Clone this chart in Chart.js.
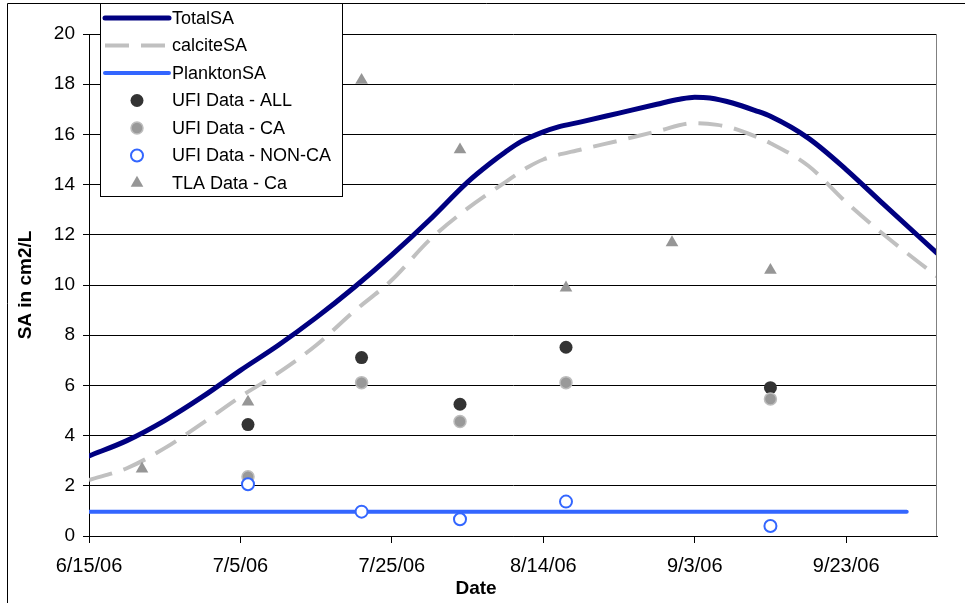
<!DOCTYPE html>
<html><head><meta charset="utf-8">
<script src="https://cdn.jsdelivr.net/npm/chart.js@4.4.0/dist/chart.umd.min.js"></script>
<style>html,body{margin:0;padding:0;background:#fff;} #wrap{width:965px;height:603px;position:relative;}</style>
</head><body><div id="wrap"><canvas id="c" width="965" height="603"></canvas></div>
<script>
// ---- data (x = days since 6/15/06) ----
const tickDays = [0, 20, 40, 60, 80, 100];
const tickLabels = ['6/15/06', '7/5/06', '7/25/06', '8/14/06', '9/3/06', '9/23/06'];
const xMaxDay = 112;
const yTicks = [0, 2, 4, 6, 8, 10, 12, 14, 16, 18, 20];

const totalDays = [0, 5, 10, 15, 20, 25, 30, 35, 40, 45, 50, 53, 55, 57, 60, 62, 65, 70, 75, 78, 80, 82, 85, 88, 90, 95, 100, 105, 112];
const totalSA   = [3.19, 3.8, 4.6, 5.55, 6.6, 7.6, 8.7, 9.9, 11.2, 12.6, 14.1, 14.85, 15.3, 15.7, 16.1, 16.3, 16.5, 16.85, 17.2, 17.4, 17.48, 17.45, 17.25, 16.95, 16.72, 15.85, 14.6, 13.2, 11.27];
const calciteDays = [0, 5, 10, 15, 20, 25, 30, 35, 40, 45, 50, 55, 58, 60, 65, 70, 75, 80, 83, 85, 88, 90, 95, 100, 105, 112];
const calciteSA   = [2.23, 2.7, 3.5, 4.5, 5.55, 6.5, 7.6, 8.95, 10.2, 11.8, 13.05, 14.1, 14.7, 15.0, 15.4, 15.75, 16.12, 16.45, 16.38, 16.25, 15.92, 15.65, 14.75, 13.3, 12.0, 10.34];
const planktonDays = [0, 108];
const planktonSA   = [0.97, 0.97];

const ufiDays  = [21, 36, 49, 63, 90];
const ufiAll   = [4.44, 7.11, 5.25, 7.52, 5.91];
const ufiCA    = [2.36, 6.11, 4.56, 6.11, 5.46];
const ufiNonCA = [2.06, 0.97, 0.67, 1.37, 0.40];

const tlaDays = [7, 21, 36, 49, 63, 77, 90];
const tlaCa   = [2.68, 5.34, 18.16, 15.39, 9.89, 11.69, 10.59];

const yTitle = 'SA in cm2/L';
const xTitle = 'Date';

// ---- build ----
const pts = (xs, ys) => xs.map((x, i) => ({x: x, y: ys[i]}));
const FONT = '"Liberation Sans", Arial, sans-serif';
Chart.defaults.font.family = FONT;
Chart.defaults.color = '#000';

const datasets = [
  {label: 'TotalSA', data: pts(totalDays, totalSA), showLine: true, borderColor: '#000080', backgroundColor: '#000080',
   borderWidth: 5, pointRadius: 0, cubicInterpolationMode: 'monotone', order: 7, borderCapStyle: 'round'},
  {label: 'calciteSA', data: pts(calciteDays, calciteSA), showLine: true, borderColor: '#C0C0C0', backgroundColor: '#C0C0C0',
   borderWidth: 4, borderDash: [24, 12], pointRadius: 0, cubicInterpolationMode: 'monotone', order: 6},
  {label: 'PlanktonSA', data: pts(planktonDays, planktonSA), showLine: true, borderColor: '#3366FF', backgroundColor: '#3366FF',
   borderWidth: 4, pointRadius: 0, order: 5, borderCapStyle: 'round'},
  {label: 'UFI Data - ALL', data: pts(ufiDays, ufiAll), showLine: false, pointStyle: 'circle', pointRadius: 6.5,
   backgroundColor: '#333333', borderColor: '#333333', borderWidth: 0, order: 3},
  {label: 'UFI Data - CA', data: pts(ufiDays, ufiCA), showLine: false, pointStyle: 'circle', pointRadius: 6,
   backgroundColor: '#999999', borderColor: '#BDBDBD', borderWidth: 1.5, order: 2},
  {label: 'UFI Data - NON-CA', data: pts(ufiDays, ufiNonCA), showLine: false, pointStyle: 'circle', pointRadius: 6,
   backgroundColor: '#FFFFFF', borderColor: '#3366FF', borderWidth: 2, order: 1},
  {label: 'TLA Data - Ca', data: pts(tlaDays, tlaCa), showLine: false, pointStyle: 'triangle', pointRadius: 7.3,
   backgroundColor: '#969696', borderColor: '#969696', borderWidth: 0, order: 4}
];

const framePlugin = {
  id: 'framePlugin',
  afterDraw(chart) {
    const ctx = chart.ctx, a = chart.chartArea;
    ctx.save();
    // plot right border
    ctx.strokeStyle = '#808080'; ctx.lineWidth = 1;
    const rx = Math.round(a.right) - 0.5;
    ctx.beginPath(); ctx.moveTo(rx, a.top); ctx.lineTo(rx, a.bottom); ctx.stroke();
    // outer frame
    ctx.strokeStyle = '#000';
    ctx.beginPath(); ctx.moveTo(7.5, 603); ctx.lineTo(7.5, 3.5); ctx.lineTo(965, 3.5); ctx.stroke();
    // x title
    ctx.font = 'bold 19px ' + FONT;
    ctx.fillStyle = '#000'; ctx.textAlign = 'center'; ctx.textBaseline = 'middle';
    ctx.fillText(xTitle, 476, 589);
    // legend
    const lx = 100.5, ly = 3.5, lw = 242, lh = 193;
    ctx.fillStyle = '#fff'; ctx.fillRect(lx, ly, lw, lh);
    ctx.strokeStyle = '#000'; ctx.lineWidth = 1; ctx.strokeRect(lx, ly, lw, lh);
    ctx.font = '18px ' + FONT; ctx.textAlign = 'left'; ctx.textBaseline = 'middle';
    chart.data.datasets.forEach((ds, i) => {
      const y = 18 + i * 27.5;
      if (ds.showLine) {
        ctx.save();
        ctx.strokeStyle = ds.borderColor; ctx.lineWidth = ds.borderWidth;
        ctx.setLineDash(ds.borderDash || []);
        ctx.lineCap = ds.borderDash ? 'butt' : 'round';
        ctx.beginPath(); ctx.moveTo(105, y); ctx.lineTo(169, y); ctx.stroke();
        ctx.restore();
      } else {
        ctx.save();
        ctx.fillStyle = ds.backgroundColor; ctx.strokeStyle = ds.borderColor;
        ctx.lineWidth = ds.borderWidth;
        Chart.helpers.drawPoint(ctx, {pointStyle: ds.pointStyle, radius: ds.pointRadius, borderWidth: ds.borderWidth, rotation: 0}, 137, y);
        ctx.restore();
      }
      ctx.fillStyle = '#000';
      ctx.fillText(ds.label, 172, y + 1);
    });
    ctx.restore();
  }
};

new Chart(document.getElementById('c'), {
  type: 'scatter',
  data: {datasets: datasets},
  options: {
    responsive: false,
    animation: false,
    devicePixelRatio: 1,
    layout: {padding: {top: 34, right: 28, left: 0, bottom: 0}},
    plugins: {legend: {display: false}, tooltip: {enabled: false}},
    scales: {
      x: {
        type: 'linear', min: 0, max: xMaxDay,
        afterBuildTicks: (s) => { s.ticks = tickDays.map(v => ({value: v})); },
        afterFit: (s) => { s.height = 67; },
        ticks: {
          callback: (v) => { const i = tickDays.indexOf(v); return i >= 0 ? tickLabels[i] : ''; },
          font: {size: 20}, color: '#000', padding: 11, maxRotation: 0, autoSkip: false
        },
        grid: {drawOnChartArea: false, drawTicks: true, tickLength: 7, color: '#000'},
        border: {display: true, color: '#000', width: 1},
        title: {display: false}
      },
      y: {
        type: 'linear', min: 0, max: 20,
        afterBuildTicks: (s) => { s.ticks = yTicks.map(v => ({value: v})); },
        afterFit: (s) => { s.width = 89; },
        ticks: {font: {size: 19}, color: '#000', padding: 8},
        grid: {color: '#000', lineWidth: 1, drawTicks: true, tickLength: 6},
        border: {display: true, color: '#000', width: 1},
        title: {display: true, text: yTitle, font: {size: 19, weight: 'bold'}, color: '#000', padding: {top: 14, bottom: 0}}
      }
    }
  },
  plugins: [framePlugin]
});
</script>
</body></html>
